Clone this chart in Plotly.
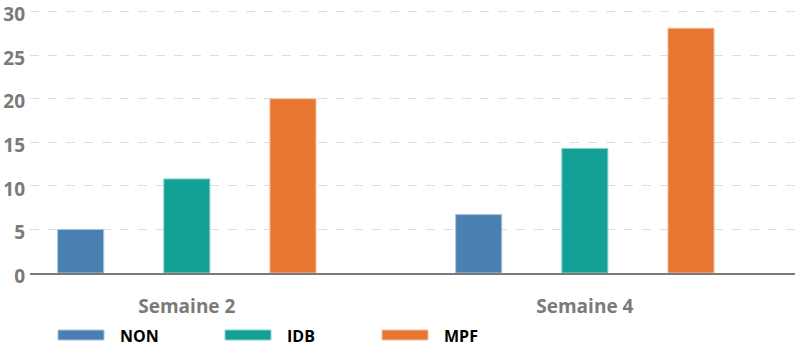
import plotly.graph_objects as go

categories = ["Semaine 2", "Semaine 4"]
series_names = ["NON", "IDB", "MPF"]
non_values = [5.0, 6.7]
idb_values = [10.8, 14.3]
mpf_values = [20.0, 28.1]
y_ticks = [0, 5, 10, 15, 20, 25, 30]

colors = ["#4a7fb1", "#13a197", "#e87633"]
edge_colors = ["#a9c3dc", "#8ed3cd", "#f5c0a0"]
values = [non_values, idb_values, mpf_values]

W, H = 800, 351
L, R, T, B = 30, 5, 9, 78
pw = W - L - R
ph = H - T - B

fig = go.Figure()
for name, vals, c, ec in zip(series_names, values, colors, edge_colors):
    fig.add_trace(go.Bar(x=categories, y=vals, name=name,
                         marker=dict(color=c, line=dict(color=ec, width=1)),
                         showlegend=False))

# custom legend (wide swatches)
leg_swatch_x = [58, 225, 382]
for i, (name, c) in enumerate(zip(series_names, colors)):
    x0 = (leg_swatch_x[i] - L) / pw
    x1 = (leg_swatch_x[i] + 46 - L) / pw
    y0 = (T + ph - 340) / ph
    y1 = (T + ph - 330) / ph
    fig.add_shape(type="rect", xref="paper", yref="paper", x0=x0, x1=x1, y0=y0, y1=y1,
                  fillcolor=c, line=dict(color=edge_colors[i], width=1))
    fig.add_annotation(xref="paper", yref="paper", x=(leg_swatch_x[i] + 60 - L) / pw,
                       y=(T + ph - 336) / ph, text="<b>%s</b>" % name, showarrow=False,
                       xanchor="left", yanchor="middle",
                       font=dict(family="Open Sans", size=16, color="#000000"))

fig.update_layout(
    width=W, height=H,
    margin=dict(l=L, r=R, t=T, b=B),
    plot_bgcolor="white", paper_bgcolor="white",
    barmode="group", bargap=0.2, bargroupgap=0.566,
    xaxis=dict(type="category", range=[-0.394, 1.528], showgrid=False, automargin=False,
               showline=True, linecolor="#7a7a7a", linewidth=1.5,
               ticks="", ticklabelstandoff=15,
               tickfont=dict(family="Open Sans", size=19, color="#7a7a7a", weight="bold")),
    yaxis=dict(range=[0, 30.3], tickvals=y_ticks, showgrid=True, gridcolor="#dddddd",
               griddash="dash", gridwidth=1, zeroline=False, showline=False, automargin=False,
               ticks="", ticklabelstandoff=4, ticklabeloverflow="allow", ticklabelshift=3,
               tickfont=dict(family="Open Sans", size=19, color="#7a7a7a", weight="bold")),
)

fig.write_html("out.html")
